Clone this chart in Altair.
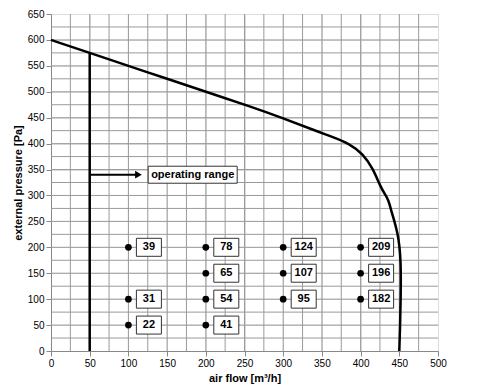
import altair as alt
import pandas as pd

# fan curve (air flow m3/h, external pressure Pa)
curve_x = [0, 50, 100, 150, 200, 257, 300, 343, 360, 386, 403, 416, 425, 431, 436, 440, 444, 448, 450, 452, 452, 451, 450]
curve_y = [600, 575, 550, 525, 500, 472, 449, 424, 415, 400, 380, 352, 319, 303, 292, 268, 249, 225, 205, 173, 109, 46, 0]

# operating points and their values
pt_x = [100, 100, 100, 200, 200, 200, 200, 300, 300, 300, 400, 400, 400]
pt_y = [200, 100, 50, 200, 150, 100, 50, 200, 150, 100, 200, 150, 100]
pt_val = ["39", "31", "22", "78", "65", "54", "41", "124", "107", "95", "209", "196", "182"]

# operating range marker
range_x = [50]
range_top = [575]
range_y = [340]
range_arrow_end = [113]
range_label = ["operating range"]

x_ticks = list(range(0, 501, 50))
y_ticks = list(range(0, 651, 50))
x_grid = list(range(25, 500, 25))
y_grid = list(range(25, 650, 25))

FONT = "Liberation Sans"

curve_df = pd.DataFrame({"x": curve_x, "y": curve_y, "i": list(range(len(curve_x)))})
pts_df = pd.DataFrame({"x": pt_x, "y": pt_y, "v": pt_val})
rng_df = pd.DataFrame({"x": range_x, "y0": [0], "y1": range_top, "ya": range_y,
                       "xa": range_arrow_end, "label": range_label})

xscale = alt.Scale(domain=[0, 500], nice=False)
yscale = alt.Scale(domain=[0, 650], nice=False)

xaxis = alt.Axis(values=x_ticks, title="air flow [m³/h]", labelOverlap=False,
                 labelSeparation=0, labelBound=False, labelFlush=False)
yaxis = alt.Axis(values=y_ticks, title="external pressure [Pa]", labelOverlap=False,
                 labelSeparation=0, labelBound=False, labelFlush=False)


def X(field):
    return alt.X(field, scale=xscale, axis=xaxis)


def Y(field):
    return alt.Y(field, scale=yscale, axis=yaxis)


grid_x = pd.DataFrame({"g": x_grid})
grid_y = pd.DataFrame({"g": y_grid})

gx = alt.Chart(grid_x).mark_rule(color="#9a9a9a", strokeWidth=1).encode(x=X("g:Q"))
gy = alt.Chart(grid_y).mark_rule(color="#9a9a9a", strokeWidth=1).encode(y=Y("g:Q"))

line = alt.Chart(curve_df).mark_line(color="black", strokeWidth=2.5, interpolate="basis").encode(
    x=X("x:Q"), y=Y("y:Q"), order="i:Q")

vline = alt.Chart(rng_df).mark_rule(color="black", strokeWidth=2.5).encode(
    x=X("x:Q"), y=Y("y0:Q"), y2="y1:Q")

arrow_line = alt.Chart(rng_df).mark_rule(color="black", strokeWidth=2).encode(
    x=X("x:Q"), x2="xa:Q", y=Y("ya:Q"))

arrow_head = alt.Chart(rng_df).mark_point(shape="triangle-right", filled=True, color="black",
                                          size=60, opacity=1).encode(
    x=X("xa:Q"), y=Y("ya:Q"))

range_box = alt.Chart(rng_df).mark_rect(fill="white", stroke="#333333", strokeWidth=1,
                                        width=89, height=17, xOffset=103).encode(
    x=X("x:Q"), y=Y("ya:Q"))

range_text = alt.Chart(rng_df).mark_text(font=FONT, fontSize=11, fontWeight="bold",
                                         color="black", dx=103, dy=0).encode(
    x=X("x:Q"), y=Y("ya:Q"), text="label:N")

dots = alt.Chart(pts_df).mark_circle(color="black", size=45, opacity=1).encode(
    x=X("x:Q"), y=Y("y:Q"))

boxes = alt.Chart(pts_df).mark_rect(fill="white", stroke="#333333", strokeWidth=1,
                                    width=25, height=18, xOffset=20.5).encode(
    x=X("x:Q"), y=Y("y:Q"))

labels = alt.Chart(pts_df).mark_text(font=FONT, fontSize=11, fontWeight="bold",
                                     color="black", dx=20.5).encode(
    x=X("x:Q"), y=Y("y:Q"), text="v:N")

chart = alt.layer(gx, gy, line, vline, arrow_line, arrow_head, range_box, range_text,
                  dots, boxes, labels).properties(
    width=387, height=337,
    autosize=alt.AutoSizeParams(type="none"),
    padding={"left": 43, "top": 6, "right": 12, "bottom": 33}
).configure_view(
    stroke="black", strokeWidth=2
).configure_axis(
    labelFont=FONT, labelFontSize=11, labelFontWeight="bold", labelColor="black",
    titleFont=FONT, titleFontSize=11, titleFontWeight="bold", titleColor="black",
    grid=False, ticks=False, domain=True, domainColor="black", domainWidth=2,
    labelPadding=6, titlePadding=2, labelOverlap=False
).configure_axisX(labelOverlap=False).configure_axisY(labelOverlap=False
).configure(background="white")

chart.save("out.html", embed_options={"renderer": "svg", "actions": False})
